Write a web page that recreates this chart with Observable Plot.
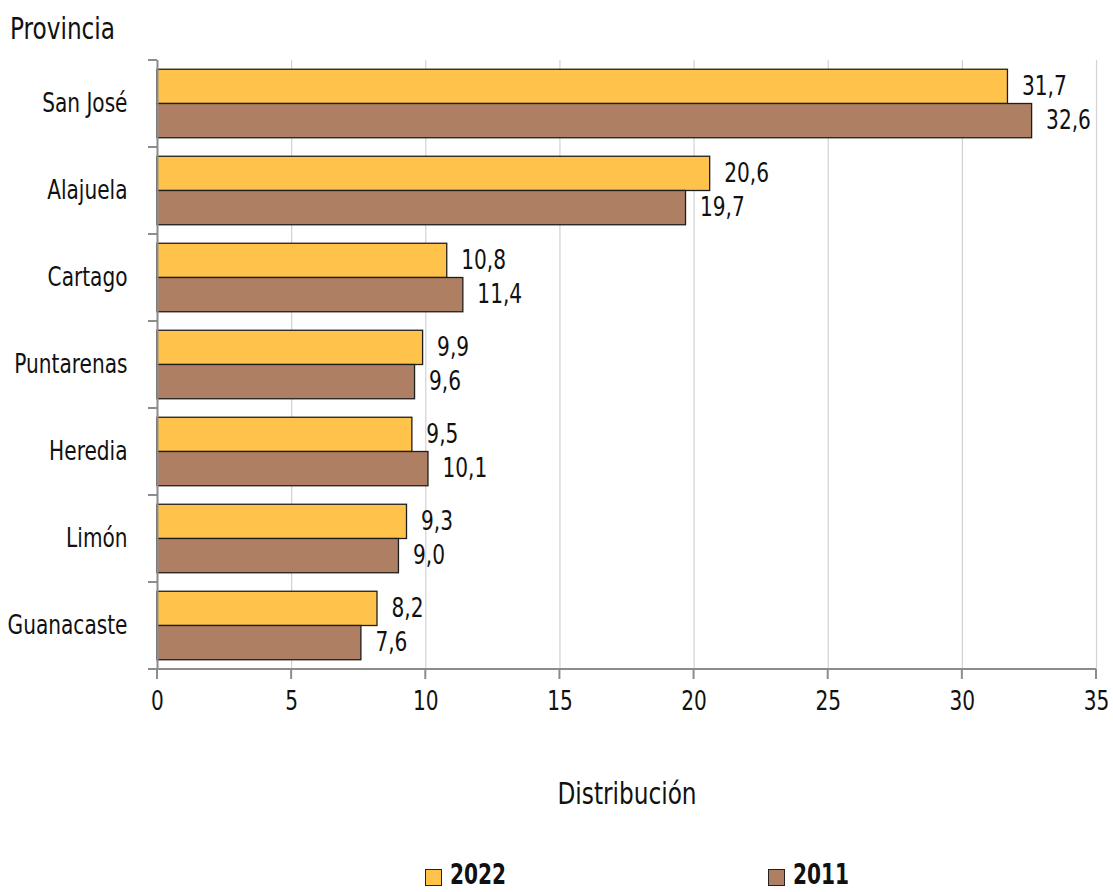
<!DOCTYPE html>
<html>
<head>
<meta charset="utf-8">
<script src="https://cdn.jsdelivr.net/npm/d3@7"></script>
<script src="https://cdn.jsdelivr.net/npm/@observablehq/plot@0.6"></script>
<style>
  html, body { margin: 0; padding: 0; background: #fff; }
  #wrap { position: relative; width: 1113px; height: 892px; overflow: hidden;
    font-family: "DejaVu Sans Condensed", "Liberation Sans Narrow", "Roboto", sans-serif; color: #111; }
  .abs { position: absolute; white-space: nowrap; line-height: 1; }
  .sw { position: absolute; width: 15px; height: 15px; border: 1px solid #222; }
</style>
</head>
<body>
<div id="wrap"></div>
<script>
const provinces = ["San José", "Alajuela", "Cartago", "Puntarenas", "Heredia", "Limón", "Guanacaste"];
const years = ["2022", "2011"];
const values2022 = [31.7, 20.6, 10.8, 9.9, 9.5, 9.3, 8.2];
const values2011 = [32.6, 19.7, 11.4, 9.6, 10.1, 9.0, 7.6];
const xTicks = [0, 5, 10, 15, 20, 25, 30, 35];
const colors = ["#FFC24B", "#AE7F62"];
const yTitle = "Provincia";
const xTitle = "Distribución";

const rows = [];
provinces.forEach((p, i) => {
  rows.push({province: p, year: "2022", value: values2022[i]});
  rows.push({province: p, year: "2011", value: values2011[i]});
});
const fmt = v => v.toFixed(1).replace(".", ",");
const FONT = '"DejaVu Sans Condensed", "Liberation Sans Narrow", "Roboto", sans-serif';
const NARROW = 0.86;

const chart = Plot.plot({
  width: 1113,
  height: 892,
  marginLeft: 157,
  marginRight: 17,
  marginTop: 60,
  marginBottom: 223,
  style: {fontFamily: FONT, fontSize: "26px", color: "#111", background: "white", overflow: "visible"},
  x: {domain: [0, 35], ticks: xTicks, tickSize: 0, tickPadding: 22, label: null, tickFormat: d => String(d)},
  fy: {domain: provinces, padding: 0, axis: "left", tickSize: 0, tickPadding: 30, label: null},
  y: {domain: years, axis: null, paddingInner: 0, paddingOuter: 0.27, round: false},
  color: {domain: years, range: colors},
  marks: [
    Plot.gridX(xTicks, {stroke: "#d2d2d2", strokeOpacity: 1, strokeWidth: 1.2}),
    Plot.barX(rows, {fy: "province", y: "year", x: "value", fill: "year", stroke: "#1e1e1e", strokeWidth: 1.3}),
    Plot.ruleX([0], {stroke: "#8c8c8c", strokeWidth: 2}),
    Plot.text(rows, {fy: "province", y: "year", x: "value", text: d => fmt(d.value), textAnchor: "start", dx: 14, fill: "#111", fontSize: 26})
  ]
});

// axis decorations drawn from the plot's own scales
const sx = chart.scale("x");
const sfy = chart.scale("fy");
const x0 = sx.apply(0);
const x1 = sx.apply(35);
const bounds = provinces.map(p => sfy.apply(p));
const yBottom = sfy.apply(provinces[provinces.length - 1]) + sfy.bandwidth;
bounds.push(yBottom);
const g = d3.select(chart).append("g").attr("stroke", "#8c8c8c").attr("stroke-width", 2);
bounds.forEach(b => {
  g.append("line").attr("x1", x0 - 9).attr("x2", x0).attr("y1", b).attr("y2", b);
});
g.append("line").attr("x1", x0 - 9).attr("x2", x1).attr("y1", yBottom).attr("y2", yBottom);
xTicks.forEach(t => {
  const xx = sx.apply(t);
  g.append("line").attr("x1", xx).attr("x2", xx).attr("y1", yBottom).attr("y2", yBottom + 10);
});

const wrap = document.getElementById("wrap");
wrap.appendChild(chart);

// narrow the glyphs to mimic the reference's condensed face
d3.select(chart).selectAll("text").each(function () {
  const len = this.getComputedTextLength();
  if (len > 0) {
    this.setAttribute("textLength", (len * NARROW).toFixed(1));
    this.setAttribute("lengthAdjust", "spacingAndGlyphs");
  }
});

function addText(txt, left, top, size, weight, center, scale) {
  const d = document.createElement("div");
  d.className = "abs";
  d.textContent = txt;
  d.style.left = left + "px";
  d.style.top = top + "px";
  d.style.fontSize = size + "px";
  if (weight) d.style.fontWeight = weight;
  d.style.transformOrigin = "left top";
  d.style.transform = (center ? "translateX(-50%) " : "") + `scaleX(${scale})`;
  if (center) d.style.transformOrigin = "center top";
  wrap.appendChild(d);
  return d;
}
addText(yTitle, 10, 14, 30, null, false, NARROW);
addText(xTitle, (x0 + x1) / 2, 779, 30, null, true, NARROW);

// legend
const legendPos = [425, 768];
years.forEach((y, i) => {
  const s = document.createElement("div");
  s.className = "sw";
  s.style.left = legendPos[i] + "px";
  s.style.top = "869px";
  s.style.background = colors[i];
  wrap.appendChild(s);
  addText(y, legendPos[i] + 25, 861, 28, "bold", false, 0.8);
});
</script>
</body>
</html>
